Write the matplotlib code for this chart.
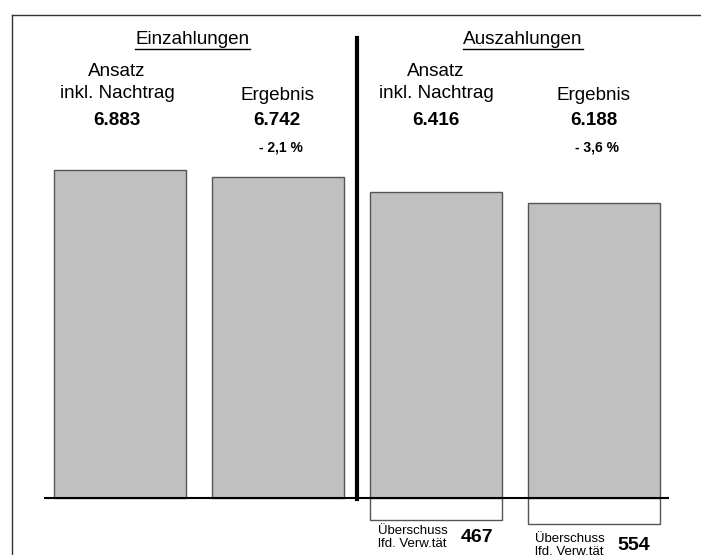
import matplotlib.pyplot as plt
import numpy as np

plt.rcParams['font.family'] = ['Liberation Sans', 'DejaVu Sans']

# Werte in Mio. EUR
einzahlungen = [6883, 6742]
auszahlungen = [6416, 6188]
abweichung = ['- 2,1 %', '- 3,6 %']
ueberschuss = [e - a for e, a in zip(einzahlungen, auszahlungen)]


def fmt(v):
    return f'{v:,}'.replace(',', '.')


W, H = 701, 555
fig = plt.figure(figsize=(W / 100, H / 100), dpi=100)

# Balken-Achse: 0 liegt bei Pixelzeile 498, 0.04765 px je Einheit
k = 0.04765
axb = fig.add_axes([0, 0, 1, 1])
axb.set_xlim(0, W)
axb.set_ylim(-57 / k, 498 / k)
axb.axis('off')

# Text-/Linien-Achse in Pixeln (y nach unten)
ax = fig.add_axes([0, 0, 1, 1])
ax.set_xlim(0, W)
ax.set_ylim(H, 0)
ax.axis('off')
ax.patch.set_alpha(0)

xs_ein = [120, 278]
xs_aus = [435.5, 594]
bw = 132

axb.bar(xs_ein, einzahlungen, width=bw, color='#c0c0c0', edgecolor='#555555', linewidth=1)
axb.bar(xs_aus, auszahlungen, width=bw, color='#c0c0c0', edgecolor='#555555', linewidth=1)
axb.bar(xs_aus, [-u for u in ueberschuss], width=bw, color='white', edgecolor='#555555', linewidth=1)

# Rahmen, Grundlinie, Trennlinie
ax.plot([12, W], [15, 15], color='#333333', lw=1)
ax.plot([12, 12], [15, H], color='#333333', lw=1)
ax.plot([45, 668], [498, 498], color='black', lw=1.5)
ax.plot([356.5, 356.5], [38, 499], color='black', lw=3)

fs = 13.6

# Überschriften (unterstrichen)
for x, t in [(192.5, 'Einzahlungen'), (523, 'Auszahlungen')]:
    txt = ax.text(x, 40, t, ha='center', va='center', fontsize=fs)
    fig.canvas.draw()
    bb = txt.get_window_extent().transformed(ax.transData.inverted())
    ax.plot([bb.x0, bb.x1], [48.5, 48.5], color='black', lw=1)

# Spaltenköpfe und Werte
for (xa, xe), vals in [((117, 277), einzahlungen), ((436, 593.5), auszahlungen)]:
    ax.text(xa, 71, 'Ansatz', ha='center', va='center', fontsize=fs)
    ax.text(xa, 93, 'inkl. Nachtrag', ha='center', va='center', fontsize=fs)
    ax.text(xe, 96, 'Ergebnis', ha='center', va='center', fontsize=fs)
    for x, v in zip((xa, xe), vals):
        ax.text(x, 120.5, fmt(v), ha='center', va='center', fontsize=fs, fontweight='bold')

for x, t in zip([281, 597], abweichung):
    ax.text(x, 147.5, t, ha='center', va='center', fontsize=10, fontweight='bold')

# Überschuss lfd. Verwaltungstätigkeit
for (xl, y0, xv, yv), u in zip([(378, 531, 477.5, 537), (535, 539, 634, 545)], ueberschuss):
    ax.text(xl, y0, 'Überschuss', ha='left', va='center', fontsize=9.5)
    ax.text(xl, y0 + 13, 'lfd. Verw.tät', ha='left', va='center', fontsize=9.5)
    ax.text(xv, yv, fmt(u), ha='center', va='center', fontsize=14, fontweight='bold')

fig.savefig('out.png', dpi=100)
